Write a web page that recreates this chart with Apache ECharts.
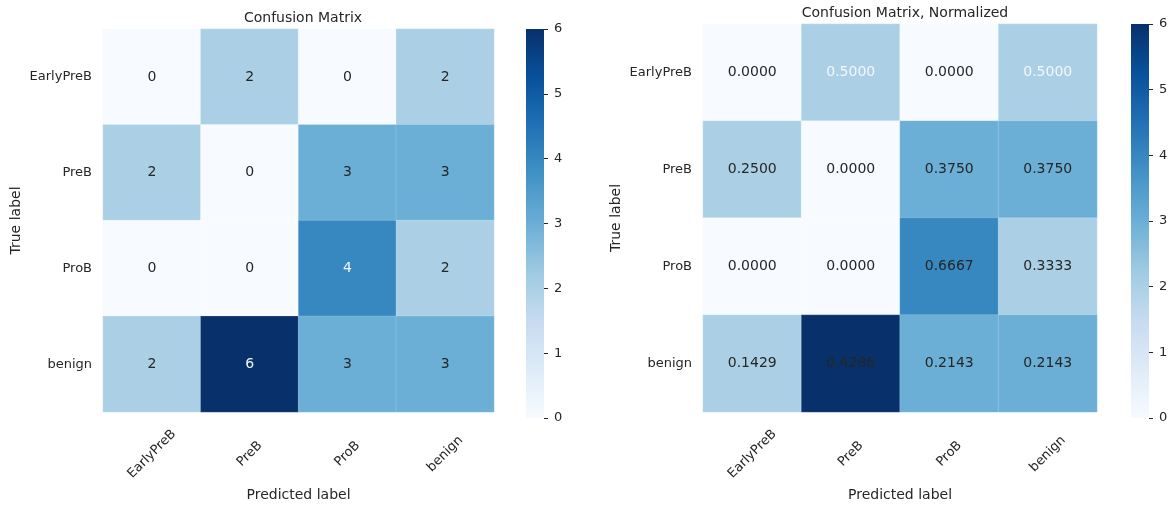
<!DOCTYPE html>
<html>
<head>
    <meta charset="utf-8">
    <title>Confusion Matrix</title>
    <script src="https://cdn.jsdelivr.net/npm/echarts@6/dist/echarts.min.js"></script>
</head>
<body style="margin:0;background:#fff">
    <div id="main" style="width:1172px;height:507px;"></div>
    <script type="text/javascript">
    // class names, same order on both axes
    var labels = ['EarlyPreB', 'PreB', 'ProB', 'benign'];
    // raw counts (rows = true label, cols = predicted label)
    var counts = [
        [0, 2, 0, 2],
        [2, 0, 3, 3],
        [0, 0, 4, 2],
        [2, 6, 3, 3]
    ];
    // row-normalized values shown on the right plot
    var normed = [
        [0.0000, 0.5000, 0.0000, 0.5000],
        [0.2500, 0.0000, 0.3750, 0.3750],
        [0.0000, 0.0000, 0.6667, 0.3333],
        [0.1429, 0.4286, 0.2143, 0.2143]
    ];
    var barTicks = [0, 1, 2, 3, 4, 5, 6];

    var blues = ['#f7fbff', '#deebf7', '#c6dbef', '#9ecae1', '#6baed6',
                 '#4292c6', '#2171b5', '#08519c', '#08306b'];
    var font = 'DejaVu Sans';
    var ink = '#262626';
    var vMin = barTicks[0], vMax = barTicks[barTicks.length - 1];

    function cells(textOf, whiteIf) {
        var out = [];
        for (var r = 0; r < counts.length; r++) {
            for (var c = 0; c < counts[r].length; c++) {
                var white = whiteIf(r, c);
                out.push({
                    value: [c, r, counts[r][c]],
                    label: { formatter: textOf(r, c), color: white ? '#f4f6f8' : ink }
                });
            }
        }
        return out;
    }

    var leftData = cells(function (r, c) { return String(counts[r][c]); },
                         function (r, c) { return counts[r][c] >= 4; });
    var rightData = cells(function (r, c) { return normed[r][c].toFixed(4); },
                          function (r, c) { return normed[r][c] === 0.5; });

    var grids = [
        { left: 103, top: 29, width: 391, height: 389 },
        { left: 703, top: 24, width: 394, height: 394 },
        // colorbars
        { left: 526, top: 29, width: 18, height: 389 },
        { left: 1131, top: 24, width: 18, height: 394 }
    ];

    function catX(i) {
        return {
            type: 'category', gridIndex: i, data: labels,
            name: 'Predicted label', nameLocation: 'middle', nameGap: 76,
            nameTextStyle: { fontFamily: font, fontSize: 14, color: ink },
            axisLine: { show: false }, axisTick: { show: false }, splitArea: { show: false },
            axisLabel: { rotate: 45, align: 'center', verticalAlign: 'middle', margin: 42,
                         fontFamily: font, fontSize: 13, color: ink }
        };
    }
    function catY(i) {
        return {
            type: 'category', gridIndex: i, data: labels, inverse: true,
            name: 'True label', nameLocation: 'middle', nameGap: 80,
            nameTextStyle: { fontFamily: font, fontSize: 14, color: ink },
            axisLine: { show: false }, axisTick: { show: false },
            axisLabel: { margin: 11, fontFamily: font, fontSize: 13, color: ink }
        };
    }
    function barX(i) {
        return { type: 'category', gridIndex: i, show: false, data: ['cbar'] };
    }
    function barY(i) {
        return {
            type: 'value', gridIndex: i, position: 'right', min: vMin, max: vMax, interval: 1,
            axisLine: { show: false }, splitLine: { show: false },
            axisTick: { show: true, length: 4, lineStyle: { color: ink, width: 1 } },
            axisLabel: { margin: 10, fontFamily: font, fontSize: 13, color: ink }
        };
    }
    function vmap(i) {
        return {
            type: 'continuous', show: false, seriesIndex: i, dimension: 2,
            min: vMin, max: vMax, inRange: { color: blues }
        };
    }
    function heat(i, data) {
        return {
            type: 'heatmap', xAxisIndex: i, yAxisIndex: i, data: data, silent: true,
            label: { show: true, fontFamily: font, fontSize: 14 },
            itemStyle: { borderColor: 'rgba(255,255,255,0.35)', borderWidth: 0.5 },
            emphasis: { disabled: true }
        };
    }
    function colorbar(i) {
        var stops = blues.map(function (c, k) { return { offset: k / (blues.length - 1), color: c }; });
        return {
            type: 'bar', xAxisIndex: i, yAxisIndex: i, data: [vMax], barWidth: '100%', silent: true,
            itemStyle: { color: new echarts.graphic.LinearGradient(0, 1, 0, 0, stops) }
        };
    }

    var chart = echarts.init(document.getElementById('main'));
    chart.setOption({
        backgroundColor: '#ffffff',
        animation: false,
        title: [
            { text: 'Confusion Matrix', left: 298, top: 6, textAlign: 'center',
              textStyle: { fontFamily: font, fontSize: 14, fontWeight: 'normal', color: ink } },
            { text: 'Confusion Matrix, Normalized', left: 900, top: 1, textAlign: 'center',
              textStyle: { fontFamily: font, fontSize: 14, fontWeight: 'normal', color: ink } }
        ],
        grid: grids,
        xAxis: [catX(0), catX(1), barX(2), barX(3)],
        yAxis: [catY(0), catY(1), barY(2), barY(3)],
        visualMap: [vmap(0), vmap(1)],
        series: [heat(0, leftData), heat(1, rightData), colorbar(2), colorbar(3)]
    });
    </script>
</body>
</html>
